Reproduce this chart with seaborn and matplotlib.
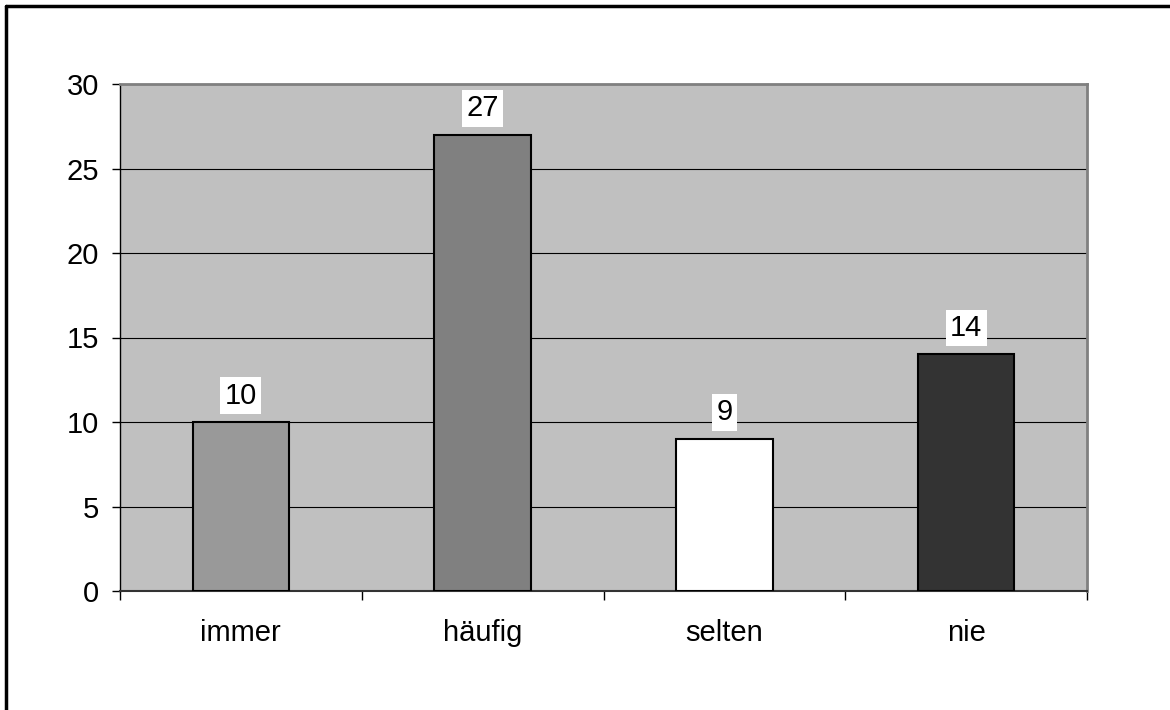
import matplotlib
matplotlib.use("Agg")
import matplotlib.pyplot as plt
import seaborn as sns
import pandas as pd
from matplotlib.lines import Line2D

categories = ["immer", "häufig", "selten", "nie"]
values = [10, 27, 9, 14]
bar_colors = ["#999999", "#808080", "#ffffff", "#333333"]
yticks = [0, 5, 10, 15, 20, 25, 30]

sns.set_theme(style="white")
plt.rcParams['font.family'] = ['Liberation Sans', 'DejaVu Sans']
plt.rcParams['text.color'] = 'black'
plt.rcParams['xtick.color'] = 'black'
plt.rcParams['ytick.color'] = 'black'
plt.rcParams['xtick.labelcolor'] = 'black'
plt.rcParams['ytick.labelcolor'] = 'black'

df = pd.DataFrame({"cat": categories, "val": values})

FS = 21

fig = plt.figure(figsize=(11.7, 7.1), dpi=100)
fig.patch.set_facecolor("white")
ax = fig.add_axes([120/1170, 1 - 591/710, (1087-120)/1170, (591-84)/710])
ax.set_facecolor("#c0c0c0")

sns.barplot(data=df, x="cat", y="val", hue="cat", palette=bar_colors,
            width=0.4, edgecolor="black", linewidth=1.5, legend=False, ax=ax,
            zorder=3)

ax.set_xlim(-0.5, 3.5)
ax.set_ylim(0, 30)
ax.set_yticks(yticks)
ax.set_yticklabels([str(t) for t in yticks], fontsize=FS, color="black")
ax.yaxis.grid(True, color="black", linewidth=0.8, zorder=1)
ax.set_axisbelow(True)
ax.set_xlabel("")
ax.set_ylabel("")

# x ticks at category boundaries, labels at centers
ax.set_xticks([-0.5, 0.5, 1.5, 2.5, 3.5])
ax.set_xticklabels([])
ax.set_xticks(range(len(categories)), minor=True)
ax.set_xticklabels(categories, minor=True, fontsize=FS, color="black")
ax.tick_params(axis="x", which="major", direction="out", length=6.5, width=1, color="black", bottom=True)
ax.tick_params(axis="x", which="minor", length=0, pad=20)
ax.tick_params(axis="y", direction="out", length=6, width=1, color="black", left=True, pad=9)

for s in ["top", "right"]:
    ax.spines[s].set_color("#808080")
    ax.spines[s].set_linewidth(2)
ax.spines["left"].set_color("black")
ax.spines["left"].set_linewidth(1)
ax.spines["bottom"].set_color("#333333")
ax.spines["bottom"].set_linewidth(1.5)

for i, v in enumerate(values):
    ax.annotate(str(v), xy=(i, v), xytext=(0, 9), textcoords="offset points",
                ha="center", va="bottom", fontsize=FS, zorder=5, color="black",
                bbox=dict(boxstyle="square,pad=0.15", facecolor="white", edgecolor="none"))

# outer frame (top and left only)
fig.add_artist(Line2D([6/1170, 1], [1 - 6/710, 1 - 6/710], color="black", linewidth=2.5, transform=fig.transFigure))
fig.add_artist(Line2D([6/1170, 6/1170], [0, 1 - 6/710], color="black", linewidth=2.5, transform=fig.transFigure))

fig.savefig("out.png", dpi=100)
